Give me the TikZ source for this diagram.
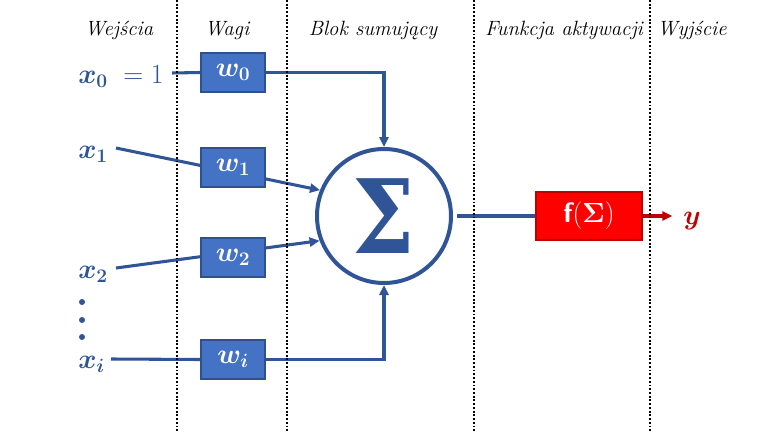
\documentclass[tikz,border=0pt]{standalone}
\usepackage{amsmath,bm,graphicx}
\usepackage[no-math]{fontspec}
\newfontfamily\sigfont{DejaVu Serif}
\usetikzlibrary{arrows.meta,calc}
\pgfdeclarelayer{bg}
\pgfsetlayers{bg,main}
\definecolor{lineblue}{HTML}{2F5597}
\definecolor{boxblue}{HTML}{4472C4}
\definecolor{boxborder}{HTML}{2F528F}
\definecolor{fred}{HTML}{FF0000}
\definecolor{darkred}{HTML}{C00000}
\tikzset{
  header/.style={font=\fontsize{15.5}{18}\selectfont\itshape, anchor=base, inner sep=0},
  inlabel/.style={text=lineblue, font=\fontsize{21.5}{24}\selectfont, anchor=base west, inner sep=0},
  wbox/.style={draw=boxborder, line width=1.1pt, fill=boxblue, text=white, minimum width=48pt, minimum height=29pt, inner sep=0, font=\fontsize{21.5}{24}\selectfont},
  conn/.style={draw=lineblue, line width=2.3pt},
  arr/.style={conn, -{Triangle[length=7.5pt,width=6.8pt]}},
  redarr/.style={draw=darkred, line width=2.3pt, -{Triangle[length=7.5pt,width=6.8pt]}},
  divider/.style={line width=1.4pt, dash pattern=on 1.4pt off 1.4pt},
  sumnode/.style={circle, draw=lineblue, line width=3pt, minimum size=100.5pt, inner sep=0, text=lineblue, font=\fontsize{77}{80}\selectfont\sigfont\bfseries},
  fbox/.style={draw=darkred, line width=1.1pt, fill=fred, text=white, minimum width=79.5pt, minimum height=36pt, inner sep=0, font=\fontsize{21}{24}\selectfont\sffamily\bfseries},
  dotmark/.style={circle, fill=lineblue, inner sep=0, minimum size=4.5pt},
}
\begin{document}
\begin{tikzpicture}[x=0.75pt,y=-0.75pt]
\useasboundingbox (0,0) rectangle (768,432);
% dividers
\foreach \xx in {177,287,474,650} \draw[divider] (\xx,0) -- (\xx,432);
% headers
\node[header] (h1) at (119,36) {Wejścia};
\node[header] (h2) at (227,36) {Wagi};
\node[header] (h3) at (373,36) {Blok sumujący};
\node[header] (h4) at (564,36) {Funkcja aktywacji};
\node[header] (h5) at (692,36) {Wyjście};
% inputs
\node[inlabel] (x0) at (78,83) {$\bm{x}_{\mathbf{0}}\mkern5mu=1$};
\node[inlabel] (x1) at (78,158) {$\bm{x}_{\mathbf{1}}$};
\node[inlabel] (x2) at (78,278) {$\bm{x}_{\mathbf{2}}$};
\node[inlabel] (xi) at (78,368) {$\bm{x}_{\bm{i}}$};
\node[dotmark] (d1) at (82,302) {};
\node[dotmark] (d2) at (82,320) {};
\node[dotmark] (d3) at (82,337) {};
\coordinate (x0s) at (172,73);
\coordinate (x1s) at (116,148);
\coordinate (x2s) at (116,268);
\coordinate (xis) at (111,359);
% weights
\node[wbox] (w0) at (233,72.5) {$\bm{w}_{\mathbf{0}}$};
\node[wbox] (w1) at (233,167.5) {$\bm{w}_{\mathbf{1}}$};
\node[wbox] (w2) at (233,257.5) {$\bm{w}_{\mathbf{2}}$};
\node[wbox] (wi) at (233,359.5) {$\bm{w}_{\bm{i}}$};
% sum
\node[sumnode] (sum) at (384,216) {\raisebox{-2pt}{\scalebox{0.86}[1]{Σ}}};
% activation
\node[fbox] (f) at (589,216) {f$(\mathbf{\Sigma})$};
\node[text=darkred, font=\fontsize{21.5}{24}\selectfont, anchor=base west, inner sep=0] (y) at (683,224) {$\bm{y}$};
% connectors
\begin{pgfonlayer}{bg}
\draw[conn] (x0s) -- (w0.west);
\draw[arr] (w0.east) -| (sum.north);
\draw[arr] (x1s) -- (sum.158);
\draw[arr] (x2s) -- (sum.201);
\draw[conn] (xis) -- (wi.west);
\draw[arr] (wi.east) -| (sum.south);
\draw[conn, shorten <=3pt] (sum.east) -- (f.west);
\draw[redarr, shorten >=8pt] (f.east) -- (y.west |- f.east);
\end{pgfonlayer}
\end{tikzpicture}
\end{document}
